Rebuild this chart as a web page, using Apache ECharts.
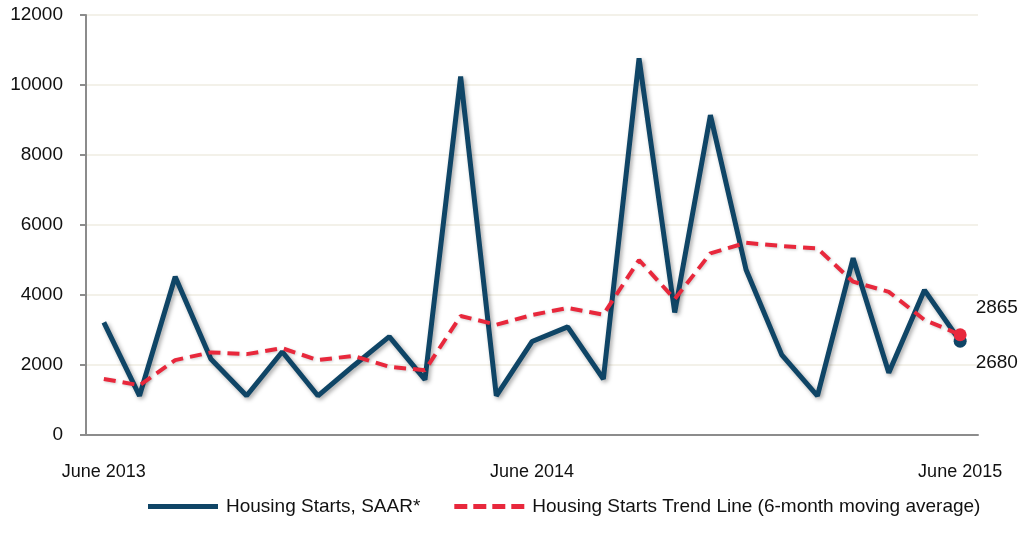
<!DOCTYPE html>
<html>
<head>
<meta charset="utf-8">
<script src="https://cdn.jsdelivr.net/npm/echarts@6/dist/echarts.min.js"></script>
<style>
  html, body { margin: 0; padding: 0; background: #fff; }
  #chart { width: 1034px; height: 548px; }
</style>
</head>
<body>
<div id="chart"></div>
<script>
// monthly, June 2013 .. June 2015
var months = [
  "June 2013", "July 2013", "Aug 2013", "Sep 2013", "Oct 2013", "Nov 2013", "Dec 2013",
  "Jan 2014", "Feb 2014", "Mar 2014", "Apr 2014", "May 2014", "June 2014",
  "July 2014", "Aug 2014", "Sep 2014", "Oct 2014", "Nov 2014", "Dec 2014",
  "Jan 2015", "Feb 2015", "Mar 2015", "Apr 2015", "May 2015", "June 2015"
];
var starts = [3220, 1120, 4520, 2170, 1120, 2380, 1120, 1980, 2810, 1580, 10240, 1120, 2670,
  3090, 1600, 10760, 3500, 9140, 4720, 2290, 1120, 5050, 1780, 4140, 2680];
var trend = [1600, 1420, 2140, 2360, 2310, 2480, 2140, 2260, 1950, 1850, 3400, 3150, 3430,
  3630, 3440, 5000, 3880, 5190, 5490, 5400, 5330, 4380, 4090, 3290, 2865];
var yTicks = { min: 0, max: 12000, step: 2000 };

var FONT = "Liberation Sans";
var last = months.length - 1;

function withEndPoint(arr, color, offset) {
  return arr.map(function (v, i) {
    if (i !== last) return v;
    return {
      value: v,
      symbol: "circle",
      symbolSize: 13,
      itemStyle: { color: color },
      label: {
        show: true,
        position: "right",
        offset: offset,
        color: "#111",
        fontFamily: FONT,
        fontSize: 19,
      },
    };
  });
}

// legend icons: solid bar, and a dashed bar
var solidIcon = "path://M0,0h70v5h-70z";
var dashIcon = "path://M0,0h13v5h-13z M19,0h13v5h-13z M38,0h13v5h-13z M57,0h13v5h-13z";

var myChart = echarts.init(document.getElementById("chart"));
myChart.setOption({
  animation: false,
  grid: { left: 86, right: 56, top: 15, bottom: 113 },
  legend: {
    bottom: 27,
    left: 143,
    itemWidth: 70,
    itemHeight: 5,
    itemGap: 34,
    textStyle: { color: "#111", fontFamily: FONT, fontSize: 19, padding: [0, 0, 0, 3] },
    data: [
      { name: "Housing Starts, SAAR*", icon: solidIcon },
      { name: "Housing Starts Trend Line (6-month moving average)", icon: dashIcon },
    ],
  },
  xAxis: {
    type: "category",
    boundaryGap: true,
    data: months,
    axisLine: { lineStyle: { color: "#8c8c8c", width: 2 } },
    axisTick: { show: false },
    axisLabel: {
      interval: function (i) { return i % 12 === 0; },
      margin: 28,
      color: "#111",
      fontFamily: FONT,
      fontSize: 18,
    },
  },
  yAxis: {
    type: "value",
    min: yTicks.min,
    max: yTicks.max,
    interval: yTicks.step,
    axisLine: { show: true, lineStyle: { color: "#8c8c8c", width: 2 } },
    axisTick: { show: true, length: 6, lineStyle: { color: "#8c8c8c", width: 2 } },
    axisLabel: {
      margin: 23,
      color: "#111",
      fontFamily: FONT,
      fontSize: 19,
      formatter: function (v) { return String(v); },
    },
    splitLine: { lineStyle: { color: "#efede2", width: 1.5 } },
  },
  series: [
    {
      name: "Housing Starts, SAAR*",
      type: "line",
      symbol: "none",
      z: 2,
      itemStyle: { color: "#0f4566" },
      lineStyle: {
        color: "#0f4566",
        width: 5,
        shadowColor: "rgba(0,0,0,0.35)",
        shadowBlur: 4,
        shadowOffsetX: 2,
        shadowOffsetY: 2,
      },
      data: withEndPoint(starts, "#0f4566", [4, 22]),
    },
    {
      name: "Housing Starts Trend Line (6-month moving average)",
      type: "line",
      symbol: "none",
      z: 3,
      itemStyle: { color: "#e8283c" },
      lineStyle: {
        color: "#e8283c",
        width: 4,
        type: [12, 7],
        shadowColor: "rgba(0,0,0,0.2)",
        shadowBlur: 3,
        shadowOffsetX: 1,
        shadowOffsetY: 1,
      },
      data: withEndPoint(trend, "#e8283c", [4, -27]),
    },
  ],
});
</script>
</body>
</html>
